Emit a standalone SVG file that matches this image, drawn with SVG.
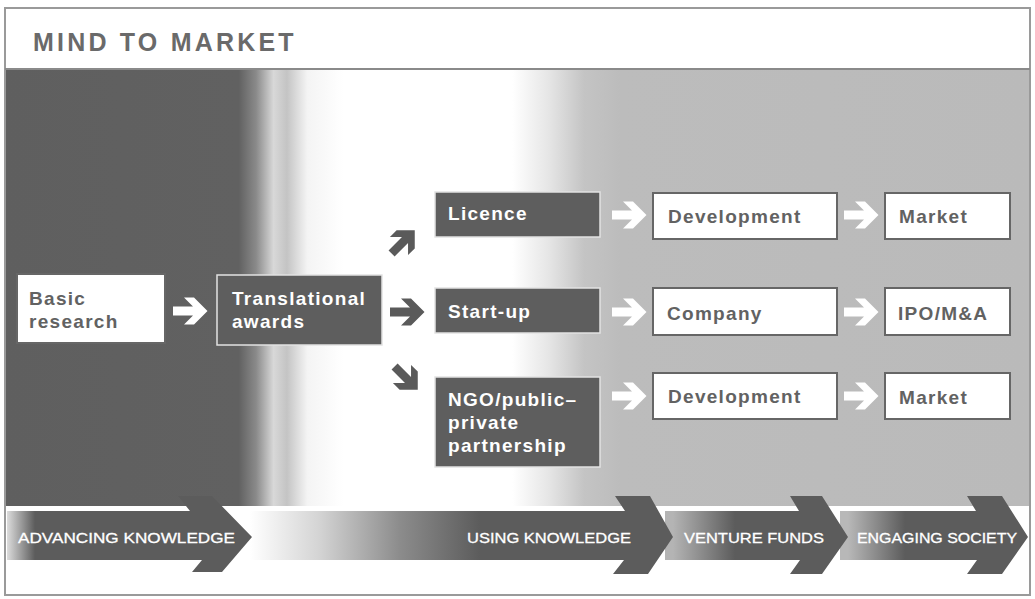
<svg xmlns="http://www.w3.org/2000/svg" width="1035" height="599" viewBox="0 0 1035 599">
<style>
.wbox{fill:#ffffff;stroke:#666666;stroke-width:2}
.dbox{fill:#5e5e5e;stroke:#e2e2e2;stroke-width:1.5}
.wt{font-family:"Liberation Sans",Arial,sans-serif;font-weight:bold;font-size:19px;fill:#626262;letter-spacing:1.3px}
.dt{font-family:"Liberation Sans",Arial,sans-serif;font-weight:bold;font-size:19px;fill:#ffffff;letter-spacing:1.3px}
.bt{font-family:"Liberation Sans",Arial,sans-serif;font-size:15px;fill:#ffffff;stroke:#ffffff;stroke-width:0.3}
.title{font-family:"Liberation Sans",Arial,sans-serif;font-weight:bold;font-size:25px;fill:#6a6a6a;letter-spacing:3.2px}
.wa{fill:#ffffff}
.da{fill:#5a5a5a}
</style>
<defs>
<linearGradient id="bg" gradientUnits="userSpaceOnUse" x1="5" y1="0" x2="1030" y2="0">
<stop offset="0" stop-color="#5f5f5f"/>
<stop offset="0.228" stop-color="#616161"/>
<stop offset="0.245" stop-color="#8a8a8a"/>
<stop offset="0.262" stop-color="#d8d8d8"/>
<stop offset="0.275" stop-color="#c4c4c4"/>
<stop offset="0.295" stop-color="#f4f4f4"/>
<stop offset="0.33" stop-color="#ffffff"/>
<stop offset="0.495" stop-color="#ffffff"/>
<stop offset="0.53" stop-color="#e6e6e6"/>
<stop offset="0.565" stop-color="#c4c4c4"/>
<stop offset="0.6" stop-color="#bcbcbc"/>
<stop offset="1" stop-color="#bababa"/>
</linearGradient>
<linearGradient id="g1" gradientUnits="userSpaceOnUse" x1="7" y1="0" x2="35" y2="0">
<stop offset="0" stop-color="#dcdcdc"/>
<stop offset="1" stop-color="#5c5c5c"/>
</linearGradient>
<linearGradient id="g2" gradientUnits="userSpaceOnUse" x1="250" y1="0" x2="480" y2="0">
<stop offset="0" stop-color="#ffffff"/>
<stop offset="0.3" stop-color="#d4d4d4"/>
<stop offset="0.65" stop-color="#8c8c8c"/>
<stop offset="1" stop-color="#5c5c5c"/>
</linearGradient>
<linearGradient id="g3" gradientUnits="userSpaceOnUse" x1="673" y1="0" x2="735" y2="0">
<stop offset="0" stop-color="#b4b4b4"/>
<stop offset="1" stop-color="#5c5c5c"/>
</linearGradient>
<linearGradient id="g4" gradientUnits="userSpaceOnUse" x1="848" y1="0" x2="905" y2="0">
<stop offset="0" stop-color="#b8b8b8"/>
<stop offset="1" stop-color="#5c5c5c"/>
</linearGradient>
<path id="arr" d="M -17,-4.5 L 3,-4.5 L -6,-13.5 L 4,-13.5 L 17.5,0 L 4,13.5 L -6,13.5 L 3,4.5 L -17,4.5 Z"/>
</defs>

<!-- frame and backgrounds -->
<rect x="0" y="0" width="1035" height="599" fill="#ffffff"/>
<rect x="5" y="70" width="1025" height="436" fill="url(#bg)"/>
<rect x="5" y="8" width="1025" height="587" fill="none" stroke="#9a9a9a" stroke-width="2"/>
<line x1="5" y1="69" x2="1030" y2="69" stroke="#8a8a8a" stroke-width="2"/>

<g id="title">
<text class="title" x="33" y="51">MIND TO MARKET</text>
</g>

<!-- bottom stage bands -->
<g id="stages">
<g id="stage-engaging">
<path d="M 840,511 L 976,511 L 967,496 L 1002,496 L 1028,537 L 1002,574 L 967,574 L 977,560 L 840,560 Z" fill="url(#g4)"/>
<text class="bt" x="857" y="543" textLength="160" lengthAdjust="spacingAndGlyphs">ENGAGING SOCIETY</text>
</g>
<g id="stage-venture">
<path d="M 665,511 L 799,511 L 790,496 L 822,496 L 848,537 L 822,574 L 790,574 L 800,560 L 665,560 Z" fill="url(#g3)"/>
<text class="bt" x="684" y="543" textLength="140" lengthAdjust="spacingAndGlyphs">VENTURE FUNDS</text>
</g>
<g id="stage-using">
<path d="M 240,511 L 625,511 L 615,496 L 650,496 L 673,537 L 648,574 L 613,574 L 624,560 L 240,560 Z" fill="url(#g2)"/>
<text class="bt" x="467" y="543" textLength="164" lengthAdjust="spacingAndGlyphs">USING KNOWLEDGE</text>
</g>
<g id="stage-advancing">
<path d="M 7,511 L 190,511 L 178,496 L 212,496 L 252,537 L 222,572 L 192,572 L 202,560 L 7,560 Z" fill="url(#g1)"/>
<text class="bt" x="18" y="543" textLength="217" lengthAdjust="spacingAndGlyphs">ADVANCING KNOWLEDGE</text>
</g>
</g>

<!-- connectors -->
<g id="connectors">
<use href="#arr" class="wa" transform="translate(190,311)"/>
<use href="#arr" class="da" transform="translate(407,312)"/>
<use href="#arr" class="da" transform="translate(403,242) rotate(-45) scale(0.95)"/>
<use href="#arr" class="da" transform="translate(406,378) rotate(45) scale(0.95)"/>
<use href="#arr" class="wa" transform="translate(629,215)"/>
<use href="#arr" class="wa" transform="translate(629,312)"/>
<use href="#arr" class="wa" transform="translate(629,396)"/>
<use href="#arr" class="wa" transform="translate(861,215)"/>
<use href="#arr" class="wa" transform="translate(861,312)"/>
<use href="#arr" class="wa" transform="translate(861,396)"/>
</g>

<!-- nodes -->
<g id="basic-research">
<rect class="wbox" x="17" y="274" width="148" height="69"/>
<text class="wt" x="29" y="305">Basic</text>
<text class="wt" x="29" y="328">research</text>
</g>
<g id="translational-awards">
<rect class="dbox" x="217" y="275" width="165" height="70"/>
<text class="dt" x="232" y="305">Translational</text>
<text class="dt" x="232" y="328">awards</text>
</g>
<g id="licence">
<rect class="dbox" x="435" y="192" width="165" height="45"/>
<text class="dt" x="448" y="220">Licence</text>
</g>
<g id="start-up">
<rect class="dbox" x="435" y="288" width="165" height="45"/>
<text class="dt" x="448" y="318">Start-up</text>
</g>
<g id="ngo">
<rect class="dbox" x="435" y="377" width="165" height="90"/>
<text class="dt" x="448" y="406">NGO/public–</text>
<text class="dt" x="448" y="429">private</text>
<text class="dt" x="448" y="452">partnership</text>
</g>
<g id="development-1">
<rect class="wbox" x="653" y="193" width="184" height="46"/>
<text class="wt" x="668" y="223">Development</text>
</g>
<g id="market-1">
<rect class="wbox" x="885" y="193" width="125" height="46"/>
<text class="wt" x="899" y="223">Market</text>
</g>
<g id="company">
<rect class="wbox" x="653" y="288" width="184" height="47"/>
<text class="wt" x="667" y="320">Company</text>
</g>
<g id="ipo">
<rect class="wbox" x="885" y="288" width="125" height="47"/>
<text class="wt" x="898" y="320">IPO/M&amp;A</text>
</g>
<g id="development-2">
<rect class="wbox" x="653" y="373" width="184" height="46"/>
<text class="wt" x="668" y="403">Development</text>
</g>
<g id="market-2">
<rect class="wbox" x="885" y="373" width="125" height="46"/>
<text class="wt" x="899" y="404">Market</text>
</g>
</svg>
